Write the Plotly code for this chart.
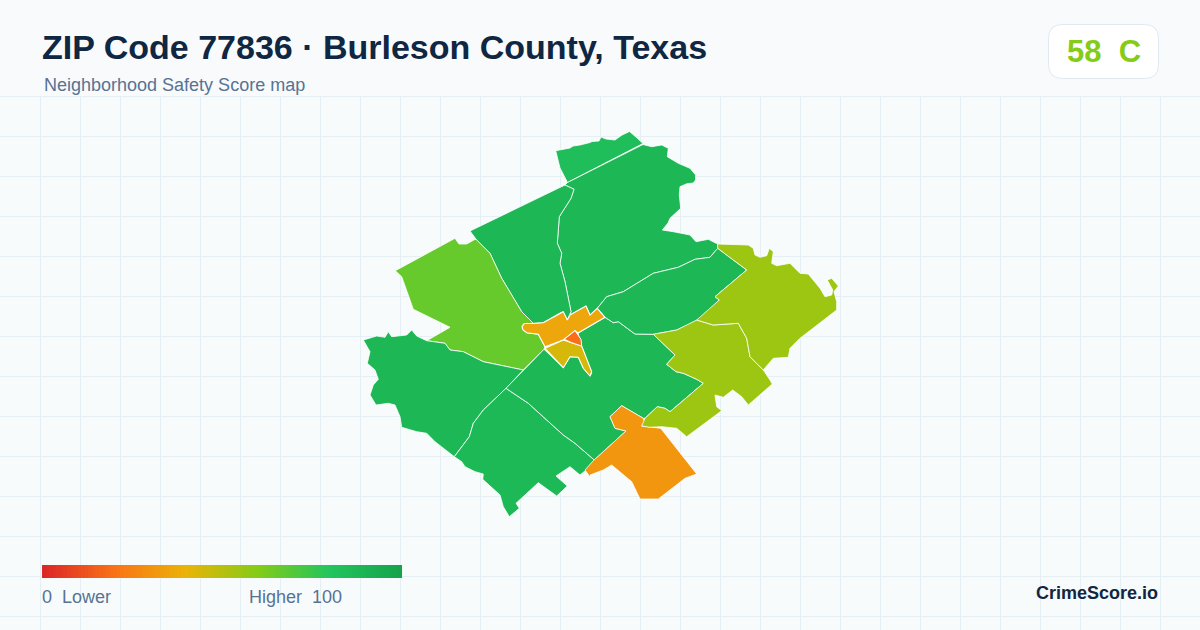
import plotly.graph_objects as go
from plotly.colors import sample_colorscale

# Score scale (position on 0-100 scale, colour)
scale_stops = [0.0, 0.2, 0.4, 0.6, 0.8, 1.0]
scale_colors = ["#dc2626", "#f97316", "#eab308", "#84cc16", "#22c55e", "#16a34a"]
colorscale = [[p, c] for p, c in zip(scale_stops, scale_colors)]

title = "ZIP Code 77836 · Burleson County, Texas"
subtitle = "Neighborhood Safety Score map"
overall_score = 58
overall_grade = "C"
legend_ramp = list(range(0, 101))

# Block-group scores
score_north_tip = 84
score_north = 88
score_northwest = 88
score_west = 66
score_southwest = 88
score_south = 87
score_central = 88
score_east = 88
score_southeast_orange = 31
score_olive_mid = 55
score_olive_ne = 55
score_town_north = 36
score_town_south = 44
score_town_core = 19

# Boundaries in map units
north_tip = [(555.7,150.7),(560,150),(570,148),(573,146),(580,145),(590,142.5),(592,141.5),(599,141),(601,137),(606,139),(615,140),(622,135),(629.5,131.5),(636,137),(643,143.5),(567.5,182.5),(563.5,174),(560,168),(558,160)]
north = [(567.5,182.5),(643,144.5),(651.7,146.7),(661.7,145),(668.3,148.3),(667.3,156.7),(678.3,163.3),(690,168.3),(695.7,175),(695.5,180),(693.3,183),(686.7,183.8),(680,186.7),(679.3,195),(680.7,208.3),(670,218.3),(668,223),(662.3,230),(673.3,231.7),(690,235),(696,241.7),(708.3,239.3),(717.7,244),(717.7,248.3),(710,257.3),(695,259.3),(678.3,267.3),(653.3,273.3),(623.3,291.7),(606.7,296.7),(597.3,308.3),(590,315),(586,306),(570,315),(571,311.7),(565,281.7),(560,263.3),(561.7,253.3),(557.3,243.3),(559.3,216.7),(571,198.3),(574,189.3),(565,185)]
northwest = [(565,185),(470,231),(476.7,240),(490,253.3),(501.7,278.3),(521.7,311.7),(533.3,323.3),(543,322.7),(560,313),(563,311.7),(567.3,320),(570,315),(571,311.7),(565,281.7),(560,263.3),(561.7,253.3),(557.3,243.3),(559.3,216.7),(571,198.3),(574,189.3)]
west = [(395.3,270.7),(455,238.3),(459,244),(466.7,244),(475,239.3),(476.7,240),(490,253.3),(501.7,278.3),(521.7,311.7),(533.3,323.3),(523.3,324),(522.3,328.3),(526.7,332.7),(538.3,334.3),(545,346.7),(544,349.3),(523.3,370),(498.3,365),(483.3,361.7),(463.3,351.7),(450,350),(445,343.3),(426.7,340.7),(450,327.3),(413.3,309.3),(401.7,276.7)]
southwest = [(363.3,340),(376.7,336),(385,337.3),(388.3,331.7),(391.7,336.7),(406.7,335),(411.7,330),(416.7,336),(426.7,340.7),(445,343.3),(450,350),(463.3,351.7),(483.3,361.7),(498.3,365),(523.3,370),(506,388.3),(483.3,410),(473.3,423.3),(469.3,436.7),(454.3,456.7),(443.3,448.3),(435,441.7),(426.7,433.3),(416.7,431.7),(401.7,427.3),(400,416.7),(395,405),(388.3,403.3),(376,405),(370,395),(373.3,385),(378.3,379.3),(375,370),(367.3,363.3),(370,351.7)]
south = [(506,388.3),(483.3,410),(473.3,423.3),(469.3,436.7),(454.3,456.7),(461.7,461.7),(465,466.7),(475,471.7),(483.3,474),(482.7,479.3),(500,495),(503.3,506.7),(509.3,516.7),(519.3,508.3),(516,503.3),(538.3,482.7),(556.7,496),(567.3,486),(556,476),(570,466.7),(580,475),(588.3,468.3),(594.3,460),(575,443.3),(563.3,435),(553.3,426),(528.3,403.3)]
central = [(544,349.3),(506,388.3),(528.3,403.3),(553.3,426),(563.3,435),(575,443.3),(594.3,460),(626,431),(615,428.3),(610,416.7),(621.7,405.7),(643.3,418.3),(645,418.3),(657.3,406.7),(665,408.3),(670,411.7),(703.3,383.3),(696.7,379.3),(683.3,373.3),(676,371.7),(666.7,364.3),(675,355),(653.3,334.3),(635,334),(618.3,321.7),(613.3,322.7),(605,317.3),(578,333),(581.7,346.7),(591.7,373.3),(590,376),(583.3,368.3),(578.3,357.3),(570,356.7),(563.3,367.7)]
east = [(717.7,248.3),(746.7,270),(715,296.7),(719.3,300),(698.3,320),(676.7,330),(653.3,334.3),(635,334),(618.3,321.7),(613.3,322.7),(605,317.3),(597.3,308.3),(606.7,296.7),(623.3,291.7),(653.3,273.3),(678.3,267.3),(695,259.3),(710,257.3)]
southeast_orange = [(585,470),(593.3,460.7),(626,431),(615,428.3),(610,416.7),(621.7,405.7),(643.3,418.3),(645,423.3),(641.7,426),(650,427.3),(660.7,428.3),(696.7,474),(685,478.3),(658.3,499),(640,499),(631.7,481.7),(611.7,465),(603.3,470),(590,475),(590.7,478)]
olive_mid = [(653.3,334.3),(676.7,330),(696.7,320),(713.3,325),(738.3,323.3),(746.7,338.3),(750,356.7),(763.3,370),(770,380),(772.3,384),(748.3,405),(741.7,396.7),(732.7,390),(723.3,397.3),(715,395),(716.7,406.7),(721.7,410.7),(686.7,436.7),(676.7,428.3),(661.7,426.7),(650,427.3),(641.7,426),(645,418.3),(657.3,406.7),(665,408.3),(670,411.7),(703.3,383.3),(696.7,379.3),(683.3,373.3),(676,371.7),(666.7,364.3),(675,355)]
olive_ne = [(717.7,244),(748.3,245),(753.3,248.3),(755,255),(760,257.3),(766.7,255.7),(769.3,248.3),(773.3,251.7),(771.7,263.3),(776.7,265.7),(790,263.3),(800,273.3),(808.3,274),(820,288.3),(825,296.7),(831.7,295),(832.7,290),(827.3,280),(831.7,278.3),(838.3,286),(834,291.7),(836.7,301.7),(836.7,310),(800,338.3),(790,348.3),(788.3,357.3),(773.3,358.3),(763.3,370),(750,356.7),(746.7,338.3),(738.3,323.3),(713.3,325),(696.7,320),(719.3,300),(715,296.7),(746.7,270),(717.7,248.3)]
town_north = [(597.3,308.3),(605,317.3),(578,333),(575,330.7),(563.3,340),(545,346.7),(538.3,334.3),(526.7,332.7),(523,330),(522,326.5),(524.5,323.5),(533.3,323.5),(543.3,322.7),(560,313.3),(563.3,311.7),(567.3,320),(570,315),(586,306),(590,315)]
town_south = [(545,348.3),(563.3,340),(571.7,342.7),(581.7,346),(591.7,371.7),(590,376),(583.3,368.3),(578.3,357.3),(570,356.7),(563.3,367.7)]
town_core = [(575,330.7),(581,339.3),(581.7,346),(571.7,342.7),(564.3,339.3)]

regions = [
    ("North tip", north_tip, score_north_tip, 0.8),
    ("North", north, score_north, 0.8),
    ("Northwest", northwest, score_northwest, 0.8),
    ("West", west, score_west, 0.8),
    ("Southwest", southwest, score_southwest, 0.8),
    ("South", south, score_south, 0.8),
    ("Central", central, score_central, 0.8),
    ("East", east, score_east, 0.8),
    ("Southeast", southeast_orange, score_southeast_orange, 0.8),
    ("Olive mid", olive_mid, score_olive_mid, 0.8),
    ("Olive NE", olive_ne, score_olive_ne, 0.8),
    ("Town north", town_north, score_town_north, 1.1),
    ("Town south", town_south, score_town_south, 1.1),
    ("Town core", town_core, score_town_core, 1.0),
]

BG = "#f8fbfc"
HEADER_BG = "#f9fafc"
fig = go.Figure()

for name, ring, score, lw in regions:
    closed = ring + [ring[0]]
    fig.add_trace(go.Scatter(
        x=[p[0] for p in closed], y=[p[1] for p in closed], mode="lines", fill="toself",
        fillcolor=sample_colorscale(colorscale, score / 100)[0],
        line=dict(color="#ffffff", width=lw), name=name, hoverinfo="name", showlegend=False))

fig.add_trace(go.Heatmap(
    z=[legend_ramp], x0=42 + 1.8, dx=3.564, y0=571.5, dy=13, zmin=0, zmax=100,
    colorscale=colorscale, showscale=False, hoverinfo="skip"))

def label(text, x, y, size, color, bold=False, anchor="left"):
    fig.add_annotation(
        text=text, x=x, y=y, xref="x", yref="y", xanchor=anchor, yanchor="middle", showarrow=False,
        align=anchor, borderpad=0, borderwidth=0,
        font=dict(family="Liberation Sans", size=size, color=color, weight="bold" if bold else "normal"))

label(title, 41.5, 47, 34, "#0f2742", True)
label(subtitle, 44, 85, 18, "#567394")
label(f"{overall_score}\u00a0\u00a0{overall_grade}", 1103.5, 51, 31, "#84cc16", True, "center")
label("0\u00a0\u00a0Lower", 42, 597, 18, "#567394")
label("Higher\u00a0\u00a0100", 249, 597, 18, "#567394")
label("CrimeScore.io", 1158, 593, 18, "#0f2742", True, "right")

r = 14
x0, x1, y0, y1 = 1048.5, 1158.5, 24.5, 78.5
badge = (f"M{x0+r},{y0} L{x1-r},{y0} Q{x1},{y0} {x1},{y0+r} L{x1},{y1-r} Q{x1},{y1} {x1-r},{y1} "
         f"L{x0+r},{y1} Q{x0},{y1} {x0},{y1-r} L{x0},{y0+r} Q{x0},{y0} {x0+r},{y0} Z")

fig.update_layout(
    width=1200, height=630, margin=dict(l=0, r=0, t=0, b=0),
    paper_bgcolor=BG, plot_bgcolor=BG, showlegend=False,
    xaxis=dict(range=[0, 1200], showgrid=True, gridcolor="#e6eff3", gridwidth=1, tick0=0.5, dtick=40,
               zeroline=False, showticklabels=False, ticks="", fixedrange=True),
    yaxis=dict(range=[630, 0], showgrid=True, gridcolor="#e6eff3", gridwidth=1, tick0=16.5, dtick=40,
               zeroline=False, showticklabels=False, ticks="", fixedrange=True),
    shapes=[
        dict(type="rect", x0=0, x1=1200, y0=0, y1=96, xref="x", yref="y", layer="between",
             fillcolor=HEADER_BG, line=dict(width=0)),
        dict(type="path", path=badge, xref="x", yref="y", layer="between",
             fillcolor="#ffffff", line=dict(color="#e2e8f0", width=1)),
    ],
)

fig.write_html("out.html", config=dict(displayModeBar=False),
               post_script="document.body.style.margin='0';document.body.style.overflow='hidden';")
